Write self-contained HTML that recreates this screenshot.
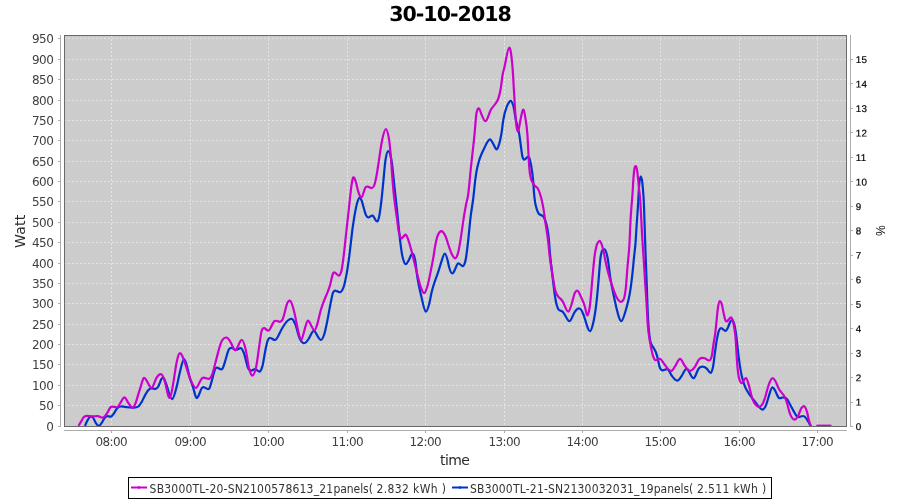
<!DOCTYPE html>
<html lang="en"><head><meta charset="utf-8"><title>30-10-2018</title>
<style>html,body{margin:0;padding:0;background:#fff}body{width:900px;height:500px;overflow:hidden}svg{display:block}.dj{font-family:"DejaVu Sans","Liberation Sans",sans-serif}.dc{font-family:"DejaVu Sans Condensed","DejaVu Sans","Liberation Sans",sans-serif}.lb{font-family:"Liberation Sans",sans-serif}</style></head><body>
<svg width="900" height="500" viewBox="0 0 900 500">
<rect width="900" height="500" fill="#fff"/>
<text class="dj" transform="translate(450 21) rotate(0.03)" text-anchor="middle" font-size="20.6" font-weight="bold" letter-spacing="-1" fill="#000">30-10-2018</text>
<rect x="64" y="35" width="783" height="392" fill="#cccccc"/>
<path d="M111.5 35 V427M190.5 35 V427M268.5 35 V427M347.5 35 V427M425.5 35 V427M504.5 35 V427M582.5 35 V427M660.5 35 V427M739.5 35 V427M817.5 35 V427M64 405.5 H847M64 385.5 H847M64 364.5 H847M64 344.5 H847M64 324.5 H847M64 303.5 H847M64 283.5 H847M64 263.5 H847M64 242.5 H847M64 222.5 H847M64 201.5 H847M64 181.5 H847M64 161.5 H847M64 140.5 H847M64 120.5 H847M64 100.5 H847M64 79.5 H847M64 59.5 H847M64 38.5 H847" stroke="#e4e4e4" stroke-width="1" stroke-dasharray="2 2" fill="none" shape-rendering="crispEdges"/>
<g fill="none" stroke-width="2.2" stroke-linejoin="round" stroke-linecap="butt">
<path d="M85.0 425.9C85.8 423.8 86.7 421.8 87.5 420.4C88.3 418.9 89.2 417.2 90.0 416.9C90.8 416.5 91.7 416.4 92.5 416.9C93.5 417.4 94.5 420.7 95.5 422.4C96.7 424.2 97.8 426.0 99.0 425.9C100.0 425.7 101.0 423.9 102.0 422.4C103.0 420.8 104.0 418.3 105.0 417.4C105.8 416.6 106.7 416.1 107.5 416.2C108.7 416.2 109.8 416.8 111.0 416.6C112.0 416.4 113.0 414.8 114.0 413.4C115.2 411.7 116.3 408.9 117.5 407.9C118.7 406.8 119.8 406.4 121.0 406.4C123.0 406.3 125.0 406.9 127.0 407.2C129.3 407.4 131.7 407.5 134.0 407.6C135.5 407.6 137.0 407.3 138.5 406.4C139.7 405.6 140.8 403.4 142.0 401.4C143.0 399.6 144.0 397.2 145.0 395.4C146.2 393.2 147.3 390.9 148.5 389.9C149.5 389.0 150.5 388.4 151.5 388.4C152.8 388.3 154.2 389.0 155.5 388.9C156.3 388.8 157.2 388.0 158.0 386.9C158.7 385.9 159.3 384.0 160.0 382.4C160.5 381.1 161.0 379.6 161.5 378.9C162.1 378.0 162.6 377.4 163.2 377.6C164.1 377.7 165.1 380.8 166.0 383.4C168.1 389.0 170.1 399.4 172.2 399.2C173.6 398.9 175.1 392.8 176.5 387.4C177.7 382.8 178.9 376.2 180.1 371.2C181.5 365.7 182.8 358.9 184.2 359.0C185.5 359.0 186.9 366.0 188.2 371.2C188.8 373.6 189.4 376.3 190.0 378.4C191.0 381.6 191.9 383.6 192.9 386.7C194.1 390.4 195.3 397.2 196.5 397.9C198.5 399.0 200.5 388.5 202.5 387.4C204.7 386.1 206.8 390.4 209.0 388.9C210.3 387.9 211.6 380.9 212.9 376.6C213.9 373.1 215.0 368.5 216.0 367.9C218.0 366.6 220.0 370.3 222.0 369.2C223.2 368.6 224.5 363.2 225.7 359.2C226.8 355.6 227.9 350.6 229.0 349.2C229.9 348.0 230.8 347.7 231.7 347.9C233.0 348.1 234.4 350.0 235.7 350.1C237.5 350.1 239.3 347.8 241.1 348.2C242.0 348.5 242.8 350.3 243.7 352.5C245.3 356.3 246.8 366.0 248.4 368.6C249.3 370.0 250.2 370.6 251.1 370.6C252.4 370.4 253.8 369.1 255.1 369.2C256.7 369.4 258.2 371.9 259.8 371.6C260.7 371.3 261.6 369.1 262.5 365.9C263.4 362.6 264.3 355.7 265.2 351.2C266.2 346.2 267.1 341.1 268.1 339.6C268.9 338.3 269.6 337.8 270.4 338.0C272.0 338.2 273.5 340.2 275.1 340.0C277.1 339.6 279.1 333.8 281.1 330.2C283.3 326.3 285.6 322.2 287.8 320.5C289.1 319.4 290.5 318.5 291.8 318.9C292.9 319.1 294.1 321.5 295.2 324.2C296.8 327.9 298.3 335.9 299.9 339.0C301.4 341.8 302.8 343.4 304.3 343.2C305.7 343.1 307.2 341.1 308.6 339.0C310.4 336.3 312.1 330.7 313.9 330.9C315.0 330.9 316.2 333.7 317.3 335.6C318.5 337.5 319.7 340.0 320.9 340.0C321.9 339.9 323.0 337.8 324.0 335.0C325.1 332.0 326.2 326.3 327.3 320.9C328.4 315.3 329.6 308.3 330.7 302.8C331.6 298.5 332.4 293.4 333.3 292.1C334.2 290.6 335.1 290.5 336.0 290.8C337.5 291.1 338.9 292.4 340.4 292.2C341.5 291.9 342.5 290.0 343.6 287.2C344.7 284.3 345.7 278.9 346.8 272.9C347.9 266.7 349.0 258.5 350.1 249.4C350.8 243.4 351.6 236.0 352.3 230.3C352.9 225.5 353.6 221.3 354.2 217.5C355.1 212.4 355.9 207.3 356.8 204.2C357.7 200.9 358.6 198.0 359.5 197.8C360.2 197.7 360.8 198.7 361.5 200.2C362.4 202.1 363.3 206.5 364.2 209.5C364.9 211.8 365.5 214.4 366.2 215.5C367.0 216.9 367.7 217.6 368.5 217.5C369.9 217.4 371.2 215.2 372.6 215.5C373.4 215.8 374.1 217.7 374.9 218.9C375.7 220.2 376.5 221.8 377.3 221.5C377.9 221.3 378.6 219.1 379.2 216.2C380.0 212.7 380.8 205.9 381.6 198.8C382.3 193.0 382.9 185.7 383.6 178.8C384.2 172.2 384.9 163.9 385.5 159.9C386.4 154.3 387.3 151.2 388.2 151.2C389.1 151.1 390.0 153.5 390.9 157.2C391.4 159.5 392.0 163.5 392.5 167.9C393.1 172.9 393.7 179.8 394.3 185.4C395.2 194.0 396.1 200.9 397.0 209.5C397.7 216.6 398.5 225.5 399.2 232.3C400.3 242.3 401.3 251.6 402.4 256.2C403.5 260.9 404.6 264.1 405.7 264.2C406.8 264.2 408.0 261.8 409.1 259.6C410.0 257.7 411.0 254.4 411.9 253.8C413.0 253.2 414.0 254.7 415.1 259.7C415.8 262.8 416.4 270.8 417.1 275.5C418.4 284.7 419.8 290.0 421.1 295.6C422.7 302.1 424.2 311.2 425.8 311.6C426.8 311.8 427.9 308.6 428.9 305.0C429.9 301.5 430.8 295.5 431.8 291.6C433.8 283.3 435.9 278.8 437.9 272.8C439.1 269.2 440.3 265.0 441.5 261.4C442.6 258.0 443.7 253.7 444.8 253.7C445.7 253.6 446.6 256.5 447.5 259.9C448.1 261.9 448.6 265.5 449.2 267.5C450.2 271.0 451.3 273.5 452.3 273.5C453.3 273.4 454.3 270.9 455.3 268.8C456.2 266.9 457.0 263.8 457.9 263.4C459.6 262.6 461.3 266.3 463.0 266.1C463.8 266.0 464.5 264.2 465.3 261.4C466.2 258.0 467.1 250.2 468.0 242.2C468.9 234.3 469.8 223.5 470.7 216.2C471.6 208.6 472.6 204.2 473.5 196.3C474.0 191.9 474.6 185.6 475.1 181.2C475.8 175.8 476.4 171.7 477.1 168.5C478.0 164.3 478.9 161.1 479.8 158.4C481.1 154.6 482.5 151.9 483.8 149.2C485.9 144.9 488.0 139.2 490.1 139.4C491.1 139.6 492.2 141.8 493.2 143.8C494.4 146.0 495.6 149.7 496.8 149.3C497.6 149.1 498.4 146.3 499.2 143.8C500.0 141.3 500.7 138.1 501.5 133.3C502.1 129.8 502.6 124.0 503.2 120.5C504.3 113.6 505.5 109.8 506.6 107.1C507.9 104.0 509.3 100.9 510.6 100.8C511.5 100.8 512.4 102.7 513.3 105.8C514.2 108.9 515.0 115.8 515.9 119.9C516.9 124.9 518.0 127.3 519.0 132.8C519.5 135.7 520.1 139.9 520.6 143.8C521.3 148.6 521.9 155.1 522.6 157.2C523.3 159.2 523.9 159.8 524.6 159.5C526.1 159.0 527.6 155.8 529.1 157.5C529.8 158.4 530.6 162.7 531.3 166.5C531.9 169.9 532.6 174.0 533.2 181.3C533.5 184.8 533.8 190.5 534.1 193.8C534.7 200.0 535.2 203.4 535.8 205.8C536.8 209.8 537.8 212.7 538.8 213.8C540.3 215.6 541.9 214.7 543.4 216.5C544.3 217.7 545.2 220.3 546.1 223.2C547.0 226.2 547.9 230.2 548.8 238.8C549.2 242.7 549.6 249.2 550.0 253.8C550.9 263.9 551.8 270.2 552.7 277.9C553.2 282.4 553.8 287.4 554.3 291.4C554.9 295.8 555.5 299.9 556.1 302.5C557.0 306.3 557.9 308.8 558.8 309.8C560.1 311.1 561.5 310.7 562.8 311.8C565.0 313.6 567.3 321.4 569.5 321.2C571.3 320.9 573.0 314.3 574.8 311.8C576.4 309.5 577.9 308.1 579.5 308.5C580.6 308.7 581.8 310.7 582.9 313.2C585.3 318.3 587.8 331.9 590.2 331.2C591.3 330.8 592.5 326.1 593.6 321.2C594.5 317.3 595.3 311.9 596.2 304.9C596.9 299.2 597.6 291.2 598.3 283.4C599.2 273.7 600.0 259.4 600.9 255.0C602.2 248.7 603.4 248.5 604.7 249.4C605.7 250.2 606.6 253.0 607.6 257.8C608.5 262.2 609.4 271.9 610.3 277.9C611.4 284.9 612.4 289.4 613.5 294.4C614.4 298.7 615.4 303.6 616.3 307.4C618.0 314.2 619.7 321.3 621.4 321.2C622.8 321.0 624.3 315.2 625.7 310.5C626.5 307.9 627.2 305.0 628.0 301.9C628.6 299.5 629.1 297.1 629.7 294.0C630.6 289.0 631.5 282.1 632.4 273.9C633.1 267.7 633.7 259.8 634.4 253.8C634.8 250.4 635.1 248.0 635.5 243.3C635.8 239.1 636.2 232.4 636.5 227.2C637.0 220.0 637.4 214.7 637.9 207.2C638.3 200.7 638.7 191.0 639.1 186.3C639.6 180.2 640.2 176.7 640.7 176.5C641.1 176.5 641.6 177.9 642.0 180.3C642.4 182.6 642.8 187.4 643.2 192.3C643.4 194.4 643.5 196.7 643.7 199.8C644.2 208.7 644.6 226.3 645.1 240.3C645.3 247.4 645.6 254.3 645.8 260.5C646.2 270.2 646.5 277.9 646.9 288.4C647.1 295.0 647.4 303.6 647.6 309.4C647.9 317.6 648.3 323.5 648.6 327.4C649.3 335.1 649.9 340.0 650.6 342.4C651.8 346.6 653.0 346.8 654.2 348.9C655.2 350.5 656.2 352.8 657.2 356.4C658.2 359.8 659.1 366.4 660.1 368.2C661.2 370.4 662.3 370.6 663.4 370.2C664.8 369.9 666.1 368.8 667.5 369.2C669.0 369.7 670.6 374.2 672.1 376.2C673.9 378.7 675.7 380.8 677.5 380.6C679.1 380.3 680.6 377.5 682.2 375.0C683.6 372.6 685.1 368.8 686.5 368.9C688.9 369.0 691.2 378.7 693.6 378.2C695.4 377.9 697.1 370.2 698.9 368.2C700.2 366.8 701.6 366.4 702.9 366.6C704.3 366.7 705.6 367.5 707.0 368.9C708.2 370.1 709.5 373.0 710.7 372.9C711.5 372.7 712.2 370.5 713.0 366.9C713.7 363.7 714.3 357.1 715.0 352.2C715.7 347.2 716.3 342.3 717.0 338.8C717.7 335.2 718.3 331.8 719.0 330.4C719.7 328.8 720.5 328.0 721.2 328.1C722.7 328.2 724.1 331.2 725.6 331.0C726.4 330.8 727.2 329.0 728.0 327.4C728.8 325.6 729.7 322.7 730.5 321.4C731.1 320.5 731.6 319.7 732.2 319.9C732.8 320.0 733.4 321.5 734.0 323.4C734.5 324.9 735.0 327.3 735.5 330.4C736.0 333.6 736.6 338.2 737.1 342.8C737.8 348.4 738.4 355.2 739.1 360.2C740.0 366.9 740.9 372.4 741.8 376.2C743.0 381.4 744.2 384.9 745.4 387.6C746.8 390.7 748.3 392.8 749.7 394.9C751.3 397.1 752.8 398.8 754.4 400.9C755.7 402.6 757.1 404.6 758.4 406.2C759.8 407.8 761.3 409.7 762.7 409.6C763.7 409.4 764.8 407.7 765.8 405.6C766.9 403.2 768.1 398.4 769.2 394.9C770.2 391.8 771.2 387.8 772.2 387.5C773.2 387.1 774.2 389.0 775.2 390.8C776.5 393.1 777.9 397.7 779.2 398.2C780.3 398.5 781.4 397.7 782.5 397.5C783.9 397.1 785.2 397.4 786.6 398.6C787.7 399.4 788.8 402.1 789.9 404.2C791.2 406.6 792.6 409.3 793.9 411.6C795.2 413.8 796.6 416.6 797.9 417.0C799.7 417.4 801.5 415.8 803.3 416.0C804.4 416.0 805.6 417.4 806.7 419.0C808.0 420.7 809.4 423.4 810.7 426.2" stroke="#0033cc"/>
<path d="M78.5 425.9C79.5 424.3 80.5 422.5 81.5 420.9C82.5 419.2 83.5 416.8 84.5 416.4C86.8 415.2 89.2 416.2 91.5 416.4C93.7 416.5 95.8 415.9 98.0 416.2C99.7 416.4 101.3 417.8 103.0 417.6C104.3 417.4 105.7 415.4 107.0 413.4C108.3 411.3 109.7 407.4 111.0 406.9C113.0 406.0 115.0 407.6 117.0 407.2C118.3 406.9 119.7 404.0 121.0 401.9C122.1 400.1 123.2 397.4 124.3 397.4C125.5 397.3 126.8 400.4 128.0 402.4C129.6 404.9 131.2 407.9 132.8 407.6C133.7 407.4 134.6 405.5 135.5 403.4C136.3 401.4 137.2 398.1 138.0 395.4C138.8 392.6 139.7 390.0 140.5 387.4C141.7 383.7 142.8 378.3 144.0 377.9C144.8 377.6 145.7 379.0 146.5 380.4C148.2 383.1 149.9 388.2 151.6 387.9C153.2 387.5 154.9 380.5 156.5 377.9C158.1 375.2 159.7 373.7 161.3 374.2C162.4 374.5 163.4 377.1 164.5 380.4C166.3 385.7 168.0 398.6 169.8 397.9C170.5 397.5 171.3 393.8 172.0 390.4C172.8 386.4 173.7 380.6 174.5 375.4C175.2 370.9 175.9 365.6 176.6 362.4C177.6 357.5 178.7 353.5 179.7 353.2C181.5 352.5 183.4 358.7 185.2 363.9C186.8 368.3 188.4 374.5 190.0 378.4C192.0 383.2 194.0 388.2 196.0 387.9C198.2 387.4 200.3 378.8 202.5 377.9C204.7 376.9 206.8 379.2 209.0 378.9C210.0 378.7 211.0 377.1 212.0 374.9C213.2 372.3 214.3 366.7 215.5 362.4C217.8 353.9 220.0 343.4 222.3 340.2C223.6 338.3 224.8 337.4 226.1 337.5C227.5 337.6 229.0 339.4 230.4 341.8C232.0 344.4 233.7 350.1 235.3 350.1C237.4 349.9 239.6 340.0 241.7 339.8C243.1 339.6 244.4 343.9 245.8 349.9C246.9 354.6 248.0 364.4 249.1 368.6C250.2 372.7 251.3 375.5 252.4 375.6C253.5 375.6 254.7 372.9 255.8 368.6C256.9 364.3 258.0 354.8 259.1 347.2C260.0 340.9 260.9 332.7 261.8 330.4C262.6 328.2 263.5 327.8 264.3 328.1C265.7 328.5 267.0 330.9 268.4 330.7C270.5 330.3 272.7 321.7 274.8 320.9C276.5 320.2 278.1 321.6 279.8 321.8C280.7 321.8 281.6 321.1 282.5 319.6C284.3 316.5 286.0 304.6 287.8 302.1C288.6 300.9 289.3 300.4 290.1 300.8C291.3 301.2 292.6 305.7 293.8 310.2C295.2 315.1 296.5 323.6 297.9 329.6C299.0 334.3 300.1 340.1 301.2 340.0C302.1 339.9 303.0 335.4 303.9 332.2C305.2 327.5 306.6 320.9 307.9 320.6C309.0 320.3 310.1 323.4 311.2 325.6C312.3 327.7 313.5 330.5 314.6 330.2C315.5 330.0 316.4 327.1 317.3 324.2C318.4 320.6 319.5 314.7 320.6 310.8C322.8 302.8 325.1 298.3 327.3 292.8C328.2 290.5 329.1 288.4 330.0 285.4C331.1 281.5 332.3 274.0 333.4 272.9C335.2 271.1 336.9 275.3 338.7 275.6C339.6 275.7 340.5 274.1 341.4 270.9C342.3 267.6 343.2 259.7 344.1 252.2C344.8 246.6 345.4 239.9 346.1 233.8C347.0 225.7 347.9 217.8 348.8 209.5C349.7 201.3 350.6 191.4 351.5 185.4C352.1 181.7 352.6 178.0 353.2 177.4C354.0 176.7 354.7 178.6 355.5 180.8C356.4 183.3 357.3 188.6 358.2 191.4C359.3 194.9 360.4 197.9 361.5 197.4C362.8 196.9 364.2 189.0 365.5 187.4C366.2 186.7 366.8 186.5 367.5 186.5C368.9 186.8 370.2 188.1 371.6 188.2C372.5 188.2 373.3 187.3 374.2 185.4C375.0 183.8 375.7 179.9 376.5 175.8C377.3 171.8 378.0 166.4 378.8 161.3C379.9 153.9 381.1 145.1 382.2 139.8C383.4 134.1 384.7 129.0 385.9 129.0C386.9 129.1 387.9 132.8 388.9 138.4C389.6 142.2 390.2 149.0 390.9 157.2C391.4 163.0 391.8 171.4 392.3 177.4C393.0 186.2 393.6 193.1 394.3 198.8C395.2 206.6 396.1 212.4 397.0 218.9C397.7 223.8 398.3 230.0 399.0 232.8C399.9 236.7 400.8 238.5 401.7 238.3C403.0 238.1 404.4 234.3 405.7 234.7C406.7 234.9 407.6 238.1 408.6 240.8C409.9 244.5 411.1 249.3 412.4 254.2C413.7 259.4 415.1 265.5 416.4 270.9C417.7 276.2 419.1 282.0 420.4 285.9C421.7 289.5 422.9 293.2 424.2 293.2C425.4 293.1 426.6 289.1 427.8 284.9C428.9 280.8 430.1 274.4 431.2 268.8C431.9 265.4 432.5 262.2 433.2 258.4C433.9 254.5 434.5 249.4 435.2 245.8C436.1 241.1 437.0 236.9 437.9 235.0C439.1 232.5 440.4 231.1 441.6 231.2C442.8 231.4 444.0 233.1 445.2 235.5C446.3 237.8 447.5 242.2 448.6 245.5C449.7 248.8 450.8 252.1 451.9 254.2C453.0 256.4 454.2 258.5 455.3 258.4C456.1 258.3 456.9 256.6 457.7 254.2C458.7 251.4 459.6 245.5 460.6 239.5C461.7 232.6 462.9 223.3 464.0 216.2C464.9 210.7 465.7 205.9 466.6 202.0C467.1 200.0 467.5 198.7 468.0 195.8C468.9 190.2 469.9 177.7 470.8 168.5C471.6 161.0 472.3 154.7 473.1 147.8C473.6 142.9 474.2 138.0 474.7 132.3C475.3 126.3 475.8 117.1 476.4 113.8C477.3 108.6 478.2 107.8 479.1 108.5C480.0 109.3 480.9 113.1 481.8 115.2C483.0 118.2 484.3 121.4 485.5 121.2C487.2 121.0 488.8 113.9 490.5 110.5C492.7 106.1 495.0 105.3 497.2 101.1C498.3 99.1 499.4 95.9 500.5 89.8C501.3 85.5 502.0 77.6 502.8 73.8C503.3 71.4 503.7 70.2 504.2 68.3C505.9 61.7 507.6 47.6 509.3 47.5C510.4 47.3 511.5 55.2 512.6 68.3C513.0 73.5 513.5 82.4 513.9 89.8C514.4 97.6 514.8 106.1 515.3 112.5C515.7 118.6 516.2 124.5 516.6 127.2C517.0 130.0 517.5 131.7 517.9 131.7C518.8 131.5 519.7 123.7 520.6 119.2C521.6 114.3 522.6 109.0 523.6 109.8C524.4 110.5 525.2 116.7 526.0 121.9C526.5 125.0 526.9 128.4 527.4 134.3C528.0 142.5 528.7 160.7 529.3 167.8C530.1 176.9 530.9 179.2 531.7 180.8C532.5 182.4 533.2 183.8 534.0 184.8C535.3 186.6 536.5 186.6 537.8 188.5C538.8 190.1 539.8 193.1 540.8 196.5C541.7 199.5 542.5 203.4 543.4 208.4C544.3 213.7 545.2 221.2 546.1 227.2C546.9 232.4 547.6 236.4 548.4 243.3C548.7 246.4 549.1 250.7 549.4 253.8C550.3 262.1 551.2 267.0 552.1 272.5C553.2 279.1 554.3 287.2 555.4 290.9C556.5 294.7 557.7 295.9 558.8 297.2C560.1 298.6 561.5 299.4 562.8 301.6C564.7 304.6 566.5 311.9 568.4 311.6C569.6 311.3 570.9 306.6 572.1 302.5C573.0 299.4 573.9 294.7 574.8 293.0C575.7 291.2 576.6 290.4 577.5 290.8C578.7 291.2 580.0 294.8 581.2 297.4C582.4 299.9 583.7 302.2 584.9 306.7C585.6 309.3 586.4 314.5 587.1 315.2C588.0 315.9 588.8 312.6 589.7 307.2C590.5 301.9 591.4 289.7 592.2 280.6C593.1 270.6 594.0 259.4 594.9 253.8C595.8 248.1 596.7 244.7 597.6 243.0C598.3 241.8 598.9 240.8 599.6 240.8C600.7 240.9 601.8 244.3 602.9 248.3C603.8 251.7 604.7 257.5 605.6 261.8C606.5 266.0 607.4 269.8 608.3 273.2C609.7 278.3 611.1 282.8 612.5 286.9C614.0 291.1 615.5 295.5 617.0 298.0C618.3 300.1 619.7 301.9 621.0 301.9C621.9 301.8 622.8 301.0 623.7 299.2C624.4 298.0 625.0 294.8 625.7 289.2C626.4 283.5 627.0 271.9 627.7 264.5C628.3 257.7 628.9 254.1 629.5 243.3C629.8 237.4 630.2 226.8 630.5 220.5C631.2 208.0 631.8 203.9 632.5 193.8C632.8 189.7 633.0 184.1 633.3 180.3C633.7 174.7 634.1 169.9 634.5 168.3C635.0 166.4 635.5 165.9 636.0 166.3C636.5 166.8 637.0 169.7 637.5 173.3C638.0 177.0 638.5 183.8 639.0 188.3C639.3 191.4 639.7 193.5 640.0 197.3C640.8 206.7 641.6 227.5 642.4 240.3C642.9 247.9 643.3 253.2 643.8 260.5C644.2 267.2 644.7 275.7 645.1 282.4C645.6 289.6 646.0 294.8 646.5 302.4C646.9 309.3 647.4 319.6 647.8 325.2C648.5 334.2 649.2 337.6 649.9 341.4C650.8 346.3 651.8 351.8 652.7 354.9C653.6 357.8 654.5 359.9 655.4 360.2C657.0 360.5 658.5 358.6 660.1 358.9C661.2 359.0 662.3 361.3 663.4 362.9C666.1 366.6 668.8 371.5 671.5 370.9C672.8 370.5 674.2 367.8 675.5 365.6C677.1 362.9 678.6 358.7 680.2 358.9C681.5 359.0 682.9 362.8 684.2 364.9C686.2 368.0 688.2 370.9 690.2 370.9C691.8 370.8 693.3 369.0 694.9 366.9C696.5 364.7 698.0 359.9 699.6 358.9C701.2 357.8 702.7 357.8 704.3 358.2C705.9 358.5 707.4 360.2 709.0 360.5C709.9 360.6 710.8 359.6 711.7 356.2C712.4 353.6 713.0 347.0 713.7 342.8C714.1 340.0 714.6 337.9 715.0 334.9C715.5 331.3 716.0 326.2 716.5 321.4C717.0 316.5 717.5 310.4 718.0 307.4C718.6 303.7 719.2 301.3 719.8 301.2C720.4 301.0 720.9 301.9 721.5 303.4C722.2 305.1 722.8 309.3 723.5 312.4C724.2 315.4 724.8 319.2 725.5 320.4C726.0 321.2 726.5 321.5 727.0 321.4C728.3 321.0 729.5 317.4 730.8 317.4C731.5 317.3 732.3 318.8 733.0 321.4C733.5 323.1 734.0 326.2 734.5 329.4C734.8 331.4 735.2 333.6 735.5 337.4C736.0 343.3 736.6 356.2 737.1 362.9C737.8 371.1 738.4 376.1 739.1 378.4C739.9 381.2 740.8 383.1 741.6 383.1C743.1 383.0 744.5 377.8 746.0 378.2C747.0 378.4 748.0 382.4 749.0 385.9C750.1 389.8 751.3 395.8 752.4 398.9C753.5 401.9 754.7 403.8 755.8 404.9C756.9 405.9 758.0 406.8 759.1 406.9C760.2 406.9 761.4 405.9 762.5 404.2C763.4 402.8 764.2 400.2 765.1 397.5C766.2 393.9 767.4 388.7 768.5 385.5C769.8 381.7 771.2 378.1 772.5 378.1C773.4 378.0 774.3 379.3 775.2 380.8C776.5 382.9 777.9 387.2 779.2 389.5C780.8 392.1 782.3 393.0 783.9 395.5C784.8 396.9 785.7 398.9 786.6 401.6C787.7 404.8 788.8 410.8 789.9 413.6C791.5 417.5 793.0 419.7 794.6 419.6C795.7 419.5 796.8 418.1 797.9 416.2C799.0 414.3 800.2 410.0 801.3 408.2C802.2 406.9 803.1 406.0 804.0 406.2C804.9 406.3 805.8 408.2 806.7 410.9C807.6 413.4 808.4 418.5 809.3 421.6C809.9 423.7 810.5 425.4 811.1 426.2" stroke="#cc00cc"/>
<path d="M816.4 425.7 L831.4 425.7" stroke="#cc00cc"/>
</g>
<rect x="64.5" y="35.5" width="782" height="391" fill="none" stroke="#6a6a6a" stroke-width="1" shape-rendering="crispEdges"/>
<path d="M60.5 35 V427M58 426.5 H61M58 405.5 H61M58 385.5 H61M58 364.5 H61M58 344.5 H61M58 324.5 H61M58 303.5 H61M58 283.5 H61M58 263.5 H61M58 242.5 H61M58 222.5 H61M58 201.5 H61M58 181.5 H61M58 161.5 H61M58 140.5 H61M58 120.5 H61M58 100.5 H61M58 79.5 H61M58 59.5 H61M58 38.5 H61M64 430.5 H847M111.5 430 V433M190.5 430 V433M268.5 430 V433M347.5 430 V433M425.5 430 V433M504.5 430 V433M582.5 430 V433M660.5 430 V433M739.5 430 V433M817.5 430 V433M850.5 35 V427M850 426.50 H853M850 402.03 H853M850 377.56 H853M850 353.09 H853M850 328.62 H853M850 304.15 H853M850 279.68 H853M850 255.21 H853M850 230.74 H853M850 206.27 H853M850 181.80 H853M850 157.33 H853M850 132.86 H853M850 108.39 H853M850 83.92 H853M850 59.45 H853" stroke="#adadad" stroke-width="1" fill="none" shape-rendering="crispEdges"/>
<g class="dj" font-size="12" fill="#404040" text-anchor="end" letter-spacing="-0.6">
<text x="53.2" y="430.8">0</text>
<text x="53.2" y="409.8">50</text>
<text x="53.2" y="389.8">100</text>
<text x="53.2" y="368.8">150</text>
<text x="53.2" y="348.8">200</text>
<text x="53.2" y="328.8">250</text>
<text x="53.2" y="307.8">300</text>
<text x="53.2" y="287.8">350</text>
<text x="53.2" y="267.8">400</text>
<text x="53.2" y="246.8">450</text>
<text x="53.2" y="226.8">500</text>
<text x="53.2" y="205.8">550</text>
<text x="53.2" y="185.8">600</text>
<text x="53.2" y="165.8">650</text>
<text x="53.2" y="144.8">700</text>
<text x="53.2" y="124.8">750</text>
<text x="53.2" y="104.8">800</text>
<text x="53.2" y="83.8">850</text>
<text x="53.2" y="63.8">900</text>
<text x="53.2" y="42.8">950</text>
</g>
<g class="dj" font-size="12" fill="#404040" text-anchor="middle" letter-spacing="-0.6">
<text x="111.2" y="446">08:00</text>
<text x="190.2" y="446">09:00</text>
<text x="268.2" y="446">10:00</text>
<text x="347.2" y="446">11:00</text>
<text x="425.2" y="446">12:00</text>
<text x="504.2" y="446">13:00</text>
<text x="582.2" y="446">14:00</text>
<text x="660.2" y="446">15:00</text>
<text x="739.2" y="446">16:00</text>
<text x="817.2" y="446">17:00</text>
</g>
<g class="lb" font-size="9.8" fill="#000" stroke="#000" stroke-width="0.2" letter-spacing="0.3">
<text transform="translate(855.7 430.1) rotate(0.03)">0</text>
<text transform="translate(855.7 405.6) rotate(0.03)">1</text>
<text transform="translate(855.7 381.2) rotate(0.03)">2</text>
<text transform="translate(855.7 356.7) rotate(0.03)">3</text>
<text transform="translate(855.7 332.2) rotate(0.03)">4</text>
<text transform="translate(855.7 307.8) rotate(0.03)">5</text>
<text transform="translate(855.7 283.3) rotate(0.03)">6</text>
<text transform="translate(855.7 258.8) rotate(0.03)">7</text>
<text transform="translate(855.7 234.3) rotate(0.03)">8</text>
<text transform="translate(855.7 209.9) rotate(0.03)">9</text>
<text transform="translate(855.7 185.4) rotate(0.03)">10</text>
<text transform="translate(855.7 160.9) rotate(0.03)">11</text>
<text transform="translate(855.7 136.5) rotate(0.03)">12</text>
<text transform="translate(855.7 112.0) rotate(0.03)">13</text>
<text transform="translate(855.7 87.5) rotate(0.03)">14</text>
<text transform="translate(855.7 63.1) rotate(0.03)">15</text>
</g>
<text class="dj" font-size="14" fill="#2b2b2b" text-anchor="middle" letter-spacing="-0.6" x="454.7" y="465">time</text>
<text class="dj" font-size="14" fill="#2b2b2b" text-anchor="middle" letter-spacing="0.2" transform="translate(24.7 231.3) rotate(-90)">Watt</text>
<text class="lb" font-size="12" fill="#000" text-anchor="middle" transform="translate(876.3 230.6) rotate(90)">%</text>
<rect x="128.5" y="477.5" width="643" height="21" fill="#fff" stroke="#000" stroke-width="1" shape-rendering="crispEdges"/>
<path d="M131 487.5 H147" stroke="#cc00cc" stroke-width="2" fill="none"/><circle cx="139" cy="487.5" r="1.25" fill="#cc00cc"/>
<path d="M452 487.5 H468" stroke="#0033cc" stroke-width="2" fill="none"/><circle cx="460" cy="487.5" r="1.25" fill="#0033cc"/>
<g class="dc" font-size="12" fill="#333" letter-spacing="0.2">
<text x="149.6" y="493" xml:space="preserve">SB3000TL-20-SN2100578613_21<tspan letter-spacing="-0.05">panels(</tspan><tspan letter-spacing="0.35"> 2.832 kWh )</tspan></text>
<text x="470" y="493" xml:space="preserve">SB3000TL-21-SN2130032031_19<tspan letter-spacing="-0.05">panels(</tspan><tspan letter-spacing="0.35"> 2.511 kWh )</tspan></text>
</g>
</svg></body></html>
